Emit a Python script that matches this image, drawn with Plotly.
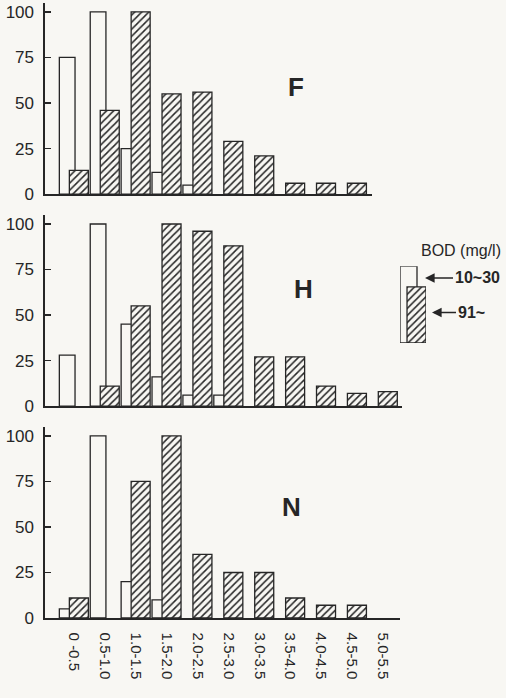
import plotly.graph_objects as go

# ---------------- data ----------------
categories = ["0 -0.5", "0.5-1.0", "1.0-1.5", "1.5-2.0", "2.0-2.5", "2.5-3.0",
              "3.0-3.5", "3.5-4.0", "4.0-4.5", "4.5-5.0", "5.0-5.5"]
panels = ["F", "H", "N"]

F_low = [75, 100, 25, 12, 5, 0, 0, 0, 0, 0, 0]       # BOD 10~30 (open)
F_high = [13, 46, 100, 55, 56, 29, 21, 6, 6, 6, 0]   # BOD 91~ (hatched)

H_low = [28, 100, 45, 16, 6, 6, 0, 0, 0, 0, 0]
H_high = [0, 11, 55, 100, 96, 88, 27, 27, 11, 7, 8]

N_low = [5, 100, 20, 10, 0, 0, 0, 0, 0, 0, 0]
N_high = [11, 0, 75, 100, 35, 25, 25, 11, 7, 7, 0]

y_ticks = [0, 25, 50, 75, 100]
legend_title = "BOD (mg/l)"
legend_labels = ["10~30", "91~"]
legend_heights = [1.0, 0.73]

# ---------------- styling ----------------
BG = "#f8f7f3"
INK = "#262626"
FONT = "Liberation Sans, Arial, sans-serif"
W, H = 506, 698

def px_x(p):
    return p / W

def px_y(p):
    return 1 - p / H

idx = list(range(len(categories)))

panel_layout = {
    # name: (y bottom px, y top px, x end px, x range end)
    "F": (197, 2.75, 372, 9.644),
    "H": (412, 218, 402, 10.615),
    "N": (627, 433, 400, 10.55),
}
letter_pos = {"F": (296, 88), "H": (303, 293), "N": (291, 514)}
data = {"F": (F_low, F_high), "H": (H_low, H_high), "N": (N_low, N_high)}

fig = go.Figure()

def nz(vals):
    return [v if v else None for v in vals]

for i, p in enumerate(panels):
    n = "" if i == 0 else str(i + 1)
    low, high = data[p]
    fig.add_trace(go.Bar(
        x=idx, y=nz(low), xaxis="x" + n, yaxis="y" + n,
        offset=-0.476, width=0.508,
        marker=dict(color=BG, line=dict(color=INK, width=1.3)),
        showlegend=False, hoverinfo="skip"))
    fig.add_trace(go.Bar(
        x=idx, y=nz(high), xaxis="x" + n, yaxis="y" + n,
        offset=-0.152, width=0.615,
        marker=dict(color=BG, line=dict(color=INK, width=1.3),
                    pattern=dict(shape="/", size=5, solidity=0.3,
                                 fgcolor=INK, bgcolor=BG, fillmode="replace")),
        showlegend=False, hoverinfo="skip"))

    yb, yt, xe, xr = panel_layout[p]
    xa = dict(domain=[px_x(45), px_x(xe)], range=[-0.94, xr],
              showline=True, linecolor=INK, linewidth=1.6,
              showgrid=False, zeroline=False, ticks="",
              showticklabels=(p == "N"), anchor="y" + n)
    if p == "N":
        xa.update(tickmode="array", tickvals=idx, ticktext=categories,
                  tickangle=90, ticklabelstandoff=10,
                  tickfont=dict(family=FONT, size=15, color=INK))
    ya = dict(domain=[px_y(yb), px_y(yt)], range=[0, 105],
              showline=True, linecolor=INK, linewidth=1.6,
              showgrid=False, zeroline=False,
              tickmode="array", tickvals=y_ticks, ticks="inside",
              ticklen=6, tickwidth=1.5, tickcolor=INK,
              ticklabelstandoff=6,
              tickfont=dict(family=FONT, size=17, color=INK),
              anchor="x" + n)
    fig.layout["xaxis" + n] = xa
    fig.layout["yaxis" + n] = ya

    lx, ly = letter_pos[p]
    fig.add_annotation(x=px_x(lx), y=px_y(ly), xref="paper", yref="paper",
                       xanchor="center", yanchor="middle",
                       text="<b>%s</b>" % p, showarrow=False,
                       font=dict(family=FONT, size=26, color=INK))

# ---------------- legend illustration ----------------
fig.add_trace(go.Bar(x=[0], y=[legend_heights[0]], xaxis="x4", yaxis="y4",
                     offset=0, width=0.654,
                     marker=dict(color=BG, line=dict(color=INK, width=1.3)),
                     showlegend=False, hoverinfo="skip"))
fig.add_trace(go.Bar(x=[0], y=[legend_heights[1]], xaxis="x4", yaxis="y4",
                     offset=0.27, width=0.73,
                     marker=dict(color=BG, line=dict(color=INK, width=1.3),
                                 pattern=dict(shape="/", size=5, solidity=0.3,
                                              fgcolor=INK, bgcolor=BG, fillmode="replace")),
                     showlegend=False, hoverinfo="skip"))
fig.layout["xaxis4"] = dict(domain=[px_x(400), px_x(426)], range=[0, 1],
                            visible=False, anchor="y4")
fig.layout["yaxis4"] = dict(domain=[px_y(348), px_y(270)], range=[0, 1],
                            visible=False, anchor="x4")

fig.add_annotation(x=px_x(461), y=px_y(254), xref="paper", yref="paper",
                   xanchor="center", yanchor="middle",
                   text=legend_title, showarrow=False,
                   font=dict(family=FONT, size=16, color=INK))
fig.add_annotation(x=px_x(425), y=px_y(282), xref="paper", yref="paper",
                   text="<b>%s</b>" % legend_labels[0], showarrow=True,
                   ax=52, ay=0, arrowhead=2, arrowsize=1.2, arrowwidth=1.6,
                   arrowcolor=INK, font=dict(family=FONT, size=16, color=INK))
fig.add_annotation(x=px_x(432), y=px_y(317), xref="paper", yref="paper",
                   text="<b>%s</b>" % legend_labels[1], showarrow=True,
                   ax=39, ay=0, arrowhead=2, arrowsize=1.2, arrowwidth=1.6,
                   arrowcolor=INK, font=dict(family=FONT, size=16, color=INK))

fig.update_layout(width=W, height=H, margin=dict(l=0, r=0, t=0, b=0),
                  paper_bgcolor=BG, plot_bgcolor=BG, barmode="overlay",
                  showlegend=False)

fig.write_html("out.html",
               config={"displayModeBar": False, "staticPlot": True},
               post_script="document.body.style.margin='0';"
                           "document.body.style.padding='0';"
                           "document.body.style.overflow='hidden';"
                           "document.body.style.background='%s';" % BG)
